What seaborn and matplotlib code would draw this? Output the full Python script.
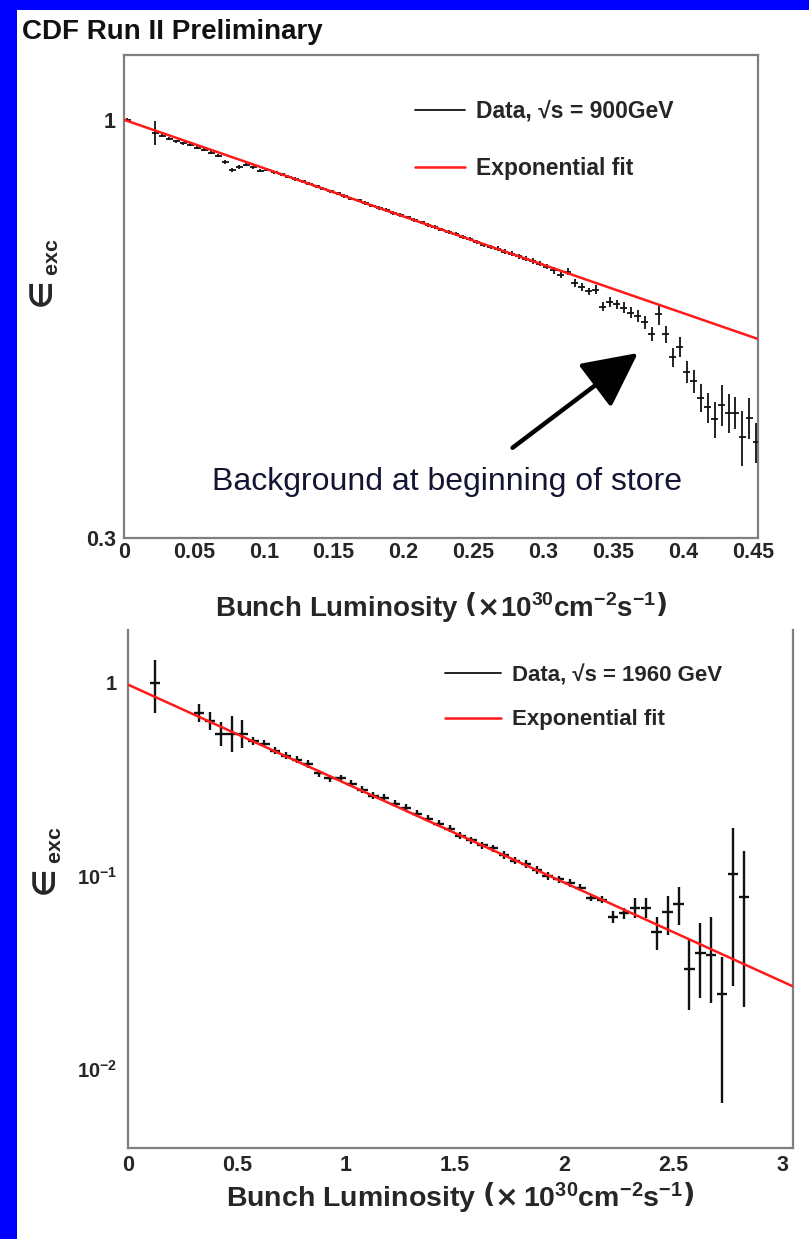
import numpy as np
import pandas as pd
import seaborn as sns
import matplotlib
matplotlib.use("Agg")
import matplotlib.pyplot as plt
from matplotlib.lines import Line2D
from matplotlib.patches import Rectangle
from matplotlib.ticker import FixedLocator, FixedFormatter, NullFormatter, MultipleLocator

# ---------------- data: sqrt(s) = 900 GeV ----------------
lumi_900 = [0.0025, 0.0225, 0.0275, 0.0325, 0.0375, 0.0425, 0.0475, 0.0525, 0.0575, 0.0625,
            0.0675, 0.0725, 0.0775, 0.0825, 0.0875, 0.0925, 0.0975, 0.1025, 0.1075, 0.1125,
            0.1175, 0.1225, 0.1275, 0.1325, 0.1375, 0.1425, 0.1475, 0.1525, 0.1575, 0.1625,
            0.1675, 0.1725, 0.1775, 0.1825, 0.1875, 0.1925, 0.1975, 0.2025, 0.2075, 0.2125,
            0.2175, 0.2225, 0.2275, 0.2325, 0.2375, 0.2425, 0.2475, 0.2525, 0.2575, 0.2625,
            0.2675, 0.2725, 0.2775, 0.2825, 0.2875, 0.2925, 0.2975, 0.3025, 0.3075, 0.3125,
            0.3175, 0.3225, 0.3275, 0.3325, 0.3375, 0.3425, 0.3475, 0.3525, 0.3575, 0.3625,
            0.3675, 0.3725, 0.3775, 0.3825, 0.3875, 0.3925, 0.3975, 0.4025, 0.4075, 0.4125,
            0.4175, 0.4225, 0.4275, 0.4325, 0.4375, 0.4425, 0.4475, 0.4525]
eff_900 = [1.000, 0.963, 0.955, 0.947, 0.940, 0.935, 0.930, 0.923, 0.917, 0.910,
           0.902, 0.886, 0.866, 0.873, 0.879, 0.872, 0.864, 0.866, 0.860, 0.855,
           0.849, 0.843, 0.838, 0.832, 0.826, 0.820, 0.814, 0.809, 0.803, 0.797,
           0.793, 0.787, 0.781, 0.776, 0.771, 0.765, 0.760, 0.755, 0.750, 0.744,
           0.739, 0.734, 0.729, 0.724, 0.719, 0.714, 0.709, 0.704, 0.698, 0.694,
           0.690, 0.684, 0.680, 0.675, 0.670, 0.666, 0.661, 0.655, 0.648, 0.640,
           0.646, 0.625, 0.618, 0.610, 0.613, 0.584, 0.592, 0.588, 0.582, 0.574,
           0.568, 0.558, 0.540, 0.571, 0.539, 0.505, 0.520, 0.484, 0.471, 0.449,
           0.437, 0.422, 0.440, 0.430, 0.430, 0.401, 0.424, 0.395]
err_900 = [0.004, 0.033, 0.004, 0.004, 0.004, 0.004, 0.004, 0.004, 0.004, 0.004,
           0.004, 0.005, 0.005, 0.004, 0.004, 0.004, 0.004, 0.004, 0.004, 0.004,
           0.004, 0.004, 0.004, 0.004, 0.004, 0.004, 0.004, 0.004, 0.004, 0.004,
           0.004, 0.004, 0.004, 0.004, 0.004, 0.004, 0.004, 0.004, 0.004, 0.004,
           0.004, 0.004, 0.004, 0.004, 0.004, 0.004, 0.004, 0.004, 0.004, 0.004,
           0.005, 0.005, 0.005, 0.005, 0.005, 0.005, 0.005, 0.005, 0.006, 0.006,
           0.007, 0.007, 0.007, 0.007, 0.008, 0.008, 0.008, 0.008, 0.009, 0.009,
           0.010, 0.010, 0.011, 0.017, 0.013, 0.014, 0.015, 0.015, 0.016, 0.018,
           0.019, 0.022, 0.026, 0.024, 0.020, 0.032, 0.025, 0.023]
fit_x_900 = [0.0, 0.4536]
fit_y_900 = [1.0, 0.532]

# ---------------- data: sqrt(s) = 1960 GeV ----------------
lumi_1960 = [0.125, 0.325, 0.375, 0.425, 0.475, 0.525, 0.575, 0.625, 0.675, 0.725,
             0.775, 0.825, 0.875, 0.925, 0.975, 1.025, 1.075, 1.125, 1.175, 1.225,
             1.275, 1.325, 1.375, 1.425, 1.475, 1.525, 1.575, 1.625, 1.675, 1.725,
             1.775, 1.825, 1.875, 1.925, 1.975, 2.025, 2.075, 2.125, 2.175, 2.225,
             2.275, 2.325, 2.375, 2.425, 2.475, 2.525, 2.575, 2.625, 2.675, 2.725,
             2.775, 2.825]
eff_1960 = [1.000, 0.700, 0.636, 0.545, 0.545, 0.545, 0.500, 0.484, 0.445, 0.420,
            0.400, 0.380, 0.340, 0.320, 0.320, 0.300, 0.280, 0.260, 0.255, 0.237,
            0.226, 0.210, 0.198, 0.187, 0.176, 0.162, 0.153, 0.144, 0.139, 0.128,
            0.120, 0.115, 0.107, 0.100, 0.096, 0.092, 0.087, 0.077, 0.0755, 0.061,
            0.064, 0.068, 0.068, 0.051, 0.065, 0.072, 0.033, 0.040, 0.039, 0.0245,
            0.103, 0.078]
err_hi_1960 = [0.31, 0.079, 0.072, 0.085, 0.13, 0.097, 0.024, 0.023, 0.020, 0.019,
               0.018, 0.017, 0.015, 0.014, 0.014, 0.013, 0.012, 0.011, 0.011, 0.010,
               0.010, 0.009, 0.009, 0.008, 0.008, 0.007, 0.007, 0.0065, 0.0065, 0.006,
               0.0055, 0.0055, 0.005, 0.005, 0.0045, 0.0045, 0.004, 0.0035, 0.0035, 0.0045,
               0.0045, 0.0086, 0.0086, 0.010, 0.014, 0.016, 0.0134, 0.017, 0.022, 0.0134,
               0.075, 0.057]
err_lo_1960 = [0.30, 0.071, 0.065, 0.073, 0.105, 0.083, 0.022, 0.021, 0.019, 0.018,
               0.017, 0.016, 0.014, 0.013, 0.013, 0.012, 0.011, 0.010, 0.010, 0.009,
               0.009, 0.0085, 0.008, 0.0075, 0.007, 0.0065, 0.0065, 0.006, 0.006, 0.0055,
               0.005, 0.005, 0.0045, 0.0045, 0.004, 0.004, 0.0037, 0.0032, 0.0032, 0.004,
               0.004, 0.0076, 0.0076, 0.0098, 0.0157, 0.0165, 0.0127, 0.0167, 0.017, 0.0178,
               0.076, 0.057]
fit_x_1960 = [0.0, 3.05]
fit_y_1960 = [0.98, 0.0268]

x_ticks_900 = [0, 0.05, 0.1, 0.15, 0.2, 0.25, 0.3, 0.35, 0.4, 0.45]
x_ticklabels_900 = ["0", "0.05", "0.1", "0.15", "0.2", "0.25", "0.3", "0.35", "0.4", "0.45"]
x_ticks_1960 = [0, 0.5, 1, 1.5, 2, 2.5, 3]
x_ticklabels_1960 = ["0", "0.5", "1", "1.5", "2", "2.5", "3"]

df_900 = pd.DataFrame({"lumi": lumi_900, "eff": eff_900, "err": err_900})
df_1960 = pd.DataFrame({"lumi": lumi_1960, "eff": eff_1960,
                        "lo": err_lo_1960, "hi": err_hi_1960})

# ---------------- style ----------------
sns.set_theme(style="white")
SANS = ["Liberation Sans", "DejaVu Sans"]
plt.rcParams["font.family"] = SANS
plt.rcParams["font.weight"] = "bold"
plt.rcParams["mathtext.fontset"] = "custom"
plt.rcParams["mathtext.rm"] = "DejaVu Sans"
plt.rcParams["mathtext.bf"] = "Liberation Sans:bold"
plt.rcParams["mathtext.it"] = "Liberation Sans:italic"
plt.rcParams["mathtext.sf"] = "DejaVu Sans"

AX_GREY = "#7f7f7f"
DATA_COL = "#111111"
FIT_COL = "#ff1a1a"
TICK_FS = 15.5

W, H = 809, 1239
fig = plt.figure(figsize=(W / 100, H / 100), dpi=100)
fig.patch.set_facecolor("#0000ff")
fig.add_artist(Rectangle((17 / W, 0), 1 - 17 / W, 1 - 10 / H, transform=fig.transFigure,
                         facecolor="white", edgecolor="none", zorder=0))

def frame(ax, top_spine=True):
    for side, sp in ax.spines.items():
        sp.set_color(AX_GREY)
        sp.set_linewidth(1.6)
    if not top_spine:
        ax.spines["top"].set_visible(False)
    ax.set_facecolor("white")
    ax.tick_params(which="both", direction="in", color=AX_GREY, width=1.3,
                   top=False, right=False, labelsize=TICK_FS)
    ax.tick_params(which="major", length=14)
    ax.tick_params(which="minor", length=7)
    for lab in ax.get_xticklabels() + ax.get_yticklabels():
        lab.set_fontweight("bold")

# ---------------- upper panel ----------------
ax1 = fig.add_axes([124 / W, 1 - 538 / H, (758 - 124) / W, (538 - 55) / H])
ax1.set_yscale("log")
ax1.errorbar(df_900["lumi"], df_900["eff"], yerr=df_900["err"], xerr=0.0025,
             fmt="none", ecolor=DATA_COL, elinewidth=1.3, capsize=0, zorder=3)
sns.lineplot(x=fit_x_900, y=fit_y_900, ax=ax1, color=FIT_COL, lw=1.8, zorder=4)
ax1.set_xlim(0, 0.4536)
ax1.set_ylim(0.3, 1.205)
ax1.xaxis.set_major_locator(FixedLocator(x_ticks_900))
ax1.xaxis.set_major_formatter(FixedFormatter(x_ticklabels_900))
ax1.xaxis.set_minor_locator(MultipleLocator(0.01))
ax1.yaxis.set_major_locator(FixedLocator([0.3, 1.0]))
ax1.yaxis.set_major_formatter(FixedFormatter(["0.3", "1"]))
ax1.yaxis.set_minor_locator(FixedLocator([0.4, 0.5, 0.6, 0.7, 0.8, 0.9]))
ax1.yaxis.set_minor_formatter(NullFormatter())
frame(ax1)
ax1.tick_params(axis="x", pad=3)
ax1.tick_params(axis="y", pad=6)

h_data = Line2D([], [], color=DATA_COL, lw=1.3)
h_fit = Line2D([], [], color=FIT_COL, lw=1.8)
ax1.legend([h_data, h_fit], ["Data, \u221as = 900GeV", "Exponential fit"],
           loc="upper left", bbox_to_anchor=((394 - 124) / 634, 1 - (79 - 55) / 483),
           frameon=False, handlelength=2.2, handletextpad=0.5, labelspacing=1.52,
           prop={"family": SANS, "weight": "bold", "size": 16.5})

ax1.annotate("", xy=(0.3677, 0.511), xytext=(0.278, 0.389),
             arrowprops=dict(arrowstyle="-|>,head_length=1.7,head_width=0.85",
                             mutation_scale=20, lw=3.2, color="black",
                             shrinkA=0, shrinkB=0))
ax1.text(0.2310, 0.352, "Background at beginning of store", ha="center", va="center",
         fontsize=23, fontweight="normal", color="#141433", family=SANS)

ax1.set_ylabel(r"$\in_{\mathbf{exc}}$", fontsize=22, rotation=90)
ax1.yaxis.set_label_coords(-(124 - 61) / 634, (538 - 276) / 483)
ax1.set_xlabel(r"Bunch Luminosity $\left(\times\mathbf{10^{30}cm^{-2}s^{-1}}\right)$",
               fontsize=20, fontweight="bold")
ax1.xaxis.set_label_coords(0.5, -(590 - 538) / 483)

fig.text(22 / W, 1 - 32 / H, "CDF Run II Preliminary", ha="left", va="center",
         fontsize=20, fontweight="bold", color="#111111")

# ---------------- lower panel ----------------
ax2 = fig.add_axes([128 / W, 1 - 1148 / H, (793 - 128) / W, (1148 - 630) / H])
ax2.set_yscale("log")
ax2.errorbar(df_1960["lumi"], df_1960["eff"], yerr=[df_1960["lo"], df_1960["hi"]],
             xerr=0.024, fmt="none", ecolor=DATA_COL, elinewidth=1.7, capsize=0, zorder=3)
sns.lineplot(x=fit_x_1960, y=fit_y_1960, ax=ax2, color=FIT_COL, lw=1.8, zorder=4)
ax2.set_xlim(0, 3.05)
ax2.set_ylim(0.0039, 1.88)
ax2.xaxis.set_major_locator(FixedLocator(x_ticks_1960))
ax2.xaxis.set_major_formatter(FixedFormatter(x_ticklabels_1960))
ax2.xaxis.set_minor_locator(MultipleLocator(0.1))
ax2.yaxis.set_major_locator(FixedLocator([0.01, 0.1, 1.0]))
ax2.yaxis.set_major_formatter(FixedFormatter([r"$\mathbf{10^{-2}}$", r"$\mathbf{10^{-1}}$", "1"]))
ax2.yaxis.set_minor_locator(FixedLocator(
    [0.004, 0.005, 0.006, 0.007, 0.008, 0.009,
     0.02, 0.03, 0.04, 0.05, 0.06, 0.07, 0.08, 0.09,
     0.2, 0.3, 0.4, 0.5, 0.6, 0.7, 0.8, 0.9]))
ax2.yaxis.set_minor_formatter(NullFormatter())
frame(ax2, top_spine=False)
ax2.tick_params(axis="x", pad=5)
ax2.tick_params(axis="y", pad=8, labelsize=14.5)

ax2.legend([h_data, h_fit], ["Data, \u221as = 1960 GeV", "Exponential fit"],
           loc="upper left", bbox_to_anchor=((425 - 128) / 665, 1 - (645 - 630) / 518),
           frameon=False, handlelength=2.5, handletextpad=0.5, labelspacing=1.05,
           prop={"family": SANS, "weight": "bold", "size": 16})

ax2.set_ylabel(r"$\in_{\mathbf{exc}}$", fontsize=22, rotation=90)
ax2.yaxis.set_label_coords(-(128 - 64) / 665, (1148 - 864) / 518)
ax2.set_xlabel(r"Bunch Luminosity $\left(\times\,\mathbf{10^{30}cm^{-2}s^{-1}}\right)$",
               fontsize=20.5, fontweight="bold")
ax2.xaxis.set_label_coords(0.5, -(1180 - 1148) / 518)

fig.savefig("out.png", dpi=100, facecolor=fig.get_facecolor())
